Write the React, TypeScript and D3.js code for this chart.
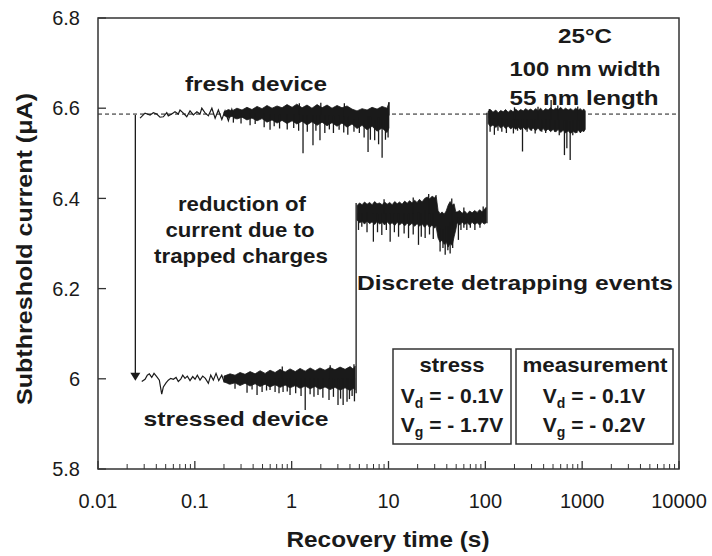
import * as d3 from "d3";

type Pt = [number, number];
type Band = [number, number, number];

const yTicks = [5.8, 6.0, 6.2, 6.4, 6.6, 6.8];
const yTickLabels = ["5.8", "6", "6.2", "6.4", "6.6", "6.8"];
const xTicks = [0.01, 0.1, 1, 10, 100, 1000, 10000];
const xTickLabels = ["0.01", "0.1", "1", "10", "100", "1000", "10000"];

// fresh level (dashed reference)
const freshLevel = 6.587;

// fresh device, sparse start of the trace
const freshThin: Pt[] = [
  [0.0272, 6.578], [0.0306, 6.589], [0.0345, 6.585], [0.0373, 6.59], [0.0404, 6.587],
  [0.0437, 6.58], [0.0473, 6.581], [0.0513, 6.59], [0.0532, 6.583], [0.0577, 6.587],
  [0.0624, 6.592], [0.0675, 6.587], [0.0703, 6.596], [0.0761, 6.589], [0.0825, 6.581],
  [0.0892, 6.594], [0.0965, 6.585], [0.105, 6.592], [0.113, 6.587], [0.118, 6.6],
  [0.127, 6.59], [0.138, 6.583], [0.15, 6.6], [0.162, 6.578], [0.175, 6.596],
  [0.19, 6.575], [0.205, 6.594], [0.222, 6.572], [0.241, 6.598], [0.26, 6.578], [0.281, 6.596],
];

// fresh device, dense part: [t, low, high]
const freshBand: Band[] = [
  [0.2, 6.584, 6.592], [0.222, 6.579, 6.597], [0.242, 6.582, 6.594], [0.272, 6.576, 6.6],
  [0.307, 6.58, 6.596], [0.345, 6.574, 6.602], [0.389, 6.578, 6.597], [0.439, 6.572, 6.604],
  [0.494, 6.577, 6.599], [0.556, 6.569, 6.606], [0.627, 6.574, 6.6], [0.706, 6.567, 6.605],
  [0.795, 6.573, 6.601], [0.895, 6.566, 6.608], [1.01, 6.572, 6.602], [1.13, 6.565, 6.609],
  [1.28, 6.571, 6.601], [1.44, 6.563, 6.607], [1.62, 6.57, 6.6], [1.83, 6.562, 6.608],
  [2.06, 6.569, 6.601], [2.32, 6.561, 6.607], [2.61, 6.568, 6.6], [2.94, 6.56, 6.606],
  [3.31, 6.567, 6.601], [3.73, 6.558, 6.605], [4.2, 6.565, 6.598], [4.73, 6.555, 6.594],
  [5.33, 6.562, 6.599], [6.01, 6.552, 6.596], [6.76, 6.56, 6.602], [7.62, 6.549, 6.598],
  [8.58, 6.556, 6.604], [9.66, 6.546, 6.6], [10.1, 6.556, 6.612],
];

const freshSpikes: Pt[] = [
  [0.25, 6.568], [0.3, 6.566], [0.372, 6.562], [0.42, 6.565], [0.52, 6.558], [0.598, 6.552],
  [0.66, 6.56], [0.75, 6.555], [0.9, 6.553], [1.05, 6.556], [1.18, 6.55], [1.31, 6.5],
  [1.45, 6.548], [1.66, 6.518], [1.78, 6.55], [1.96, 6.529], [2.2, 6.545], [2.45, 6.553],
  [2.7, 6.545], [3.09, 6.552], [3.45, 6.546], [3.8, 6.541], [4.4, 6.548], [5.0, 6.545],
  [5.6, 6.535], [6.15, 6.503], [6.5, 6.53], [7.2, 6.529], [7.9, 6.52], [8.59, 6.49],
  [9.3, 6.53], [9.9, 6.535],
  [1.2, 6.611], [2.0, 6.612], [3.5, 6.611], [10.1, 6.614],
];

// stressed device, sparse start
const stressThin: Pt[] = [
  [0.0283, 5.994], [0.0306, 5.999], [0.0323, 6.008], [0.0339, 6.011], [0.0359, 6.003],
  [0.0379, 6.012], [0.0404, 6.005], [0.043, 5.997], [0.0455, 5.966], [0.0473, 5.982],
  [0.0504, 5.991], [0.0532, 5.997], [0.0564, 6.001], [0.06, 5.999], [0.064, 6.003],
  [0.0675, 5.994], [0.0715, 5.999], [0.075, 6.008], [0.0792, 6.001], [0.0837, 6.006],
  [0.0892, 5.996], [0.0951, 6.005], [0.1005, 5.999], [0.1061, 6.008], [0.1131, 5.997],
  [0.1206, 6.006], [0.1284, 6.001], [0.1379, 5.99], [0.146, 6.008], [0.1553, 5.997],
  [0.1656, 6.012], [0.1766, 5.996], [0.1896, 6.008], [0.2003, 5.994], [0.2136, 6.005], [0.2272, 5.988],
];

const stressBand: Band[] = [
  [0.2, 5.993, 6.006], [0.231, 5.988, 6.011], [0.26, 5.991, 6.008], [0.293, 5.985, 6.014],
  [0.33, 5.99, 6.01], [0.372, 5.984, 6.016], [0.419, 5.989, 6.011], [0.472, 5.983, 6.018],
  [0.532, 5.988, 6.012], [0.598, 5.982, 6.019], [0.674, 5.987, 6.014], [0.759, 5.981, 6.021],
  [0.856, 5.986, 6.015], [0.962, 5.98, 6.022], [1.09, 5.985, 6.016], [1.22, 5.979, 6.023],
  [1.38, 5.984, 6.017], [1.55, 5.978, 6.024], [1.75, 5.983, 6.018], [1.96, 5.977, 6.024],
  [2.21, 5.982, 6.019], [2.49, 5.976, 6.025], [2.8, 5.981, 6.02], [3.16, 5.975, 6.026],
  [3.56, 5.98, 6.021], [4.01, 5.974, 6.027], [4.3, 5.979, 6.022], [4.52, 5.975, 6.028],
];

const stressSpikes: Pt[] = [
  [0.26, 5.978], [0.346, 5.969], [0.39, 5.976], [0.439, 5.964], [0.495, 5.971], [0.55, 5.974],
  [0.598, 5.975], [0.674, 5.971], [0.74, 5.968], [0.815, 5.971], [0.9, 5.972], [0.962, 5.964],
  [1.1, 5.968], [1.25, 5.962], [1.38, 5.931], [1.55, 5.966], [1.7, 5.96], [1.87, 5.964],
  [2.1, 5.958], [2.43, 5.953], [2.7, 5.96], [3.01, 5.942], [3.2, 5.956], [3.4, 5.942],
  [3.73, 5.949], [3.95, 5.955], [4.21, 5.962], [4.45, 5.95],
  [0.8, 6.027], [2.5, 6.03], [4.4, 6.032],
];

// after first detrapping event
const level2Band: Band[] = [
  [4.74, 6.352, 6.384], [5.02, 6.346, 6.39], [5.33, 6.349, 6.386], [5.66, 6.343, 6.392],
  [6.01, 6.35, 6.387], [6.38, 6.344, 6.391], [6.77, 6.348, 6.386], [7.19, 6.342, 6.393],
  [7.62, 6.349, 6.388], [8.09, 6.343, 6.39], [8.59, 6.347, 6.386], [9.12, 6.341, 6.392],
  [9.68, 6.348, 6.387], [10.3, 6.342, 6.391], [10.9, 6.346, 6.386], [11.6, 6.34, 6.393],
  [12.3, 6.347, 6.388], [13.0, 6.341, 6.392], [13.8, 6.346, 6.387], [14.7, 6.339, 6.394],
  [15.6, 6.345, 6.389], [16.5, 6.34, 6.395], [17.5, 6.345, 6.39], [18.6, 6.338, 6.396],
  [19.7, 6.344, 6.391], [20.9, 6.339, 6.398], [22.2, 6.343, 6.392], [23.6, 6.336, 6.4],
  [25.1, 6.343, 6.403], [26.6, 6.335, 6.399], [28.2, 6.341, 6.405], [30, 6.334, 6.401],
  [31, 6.338, 6.407], [32.5, 6.312, 6.373], [34.1, 6.303, 6.366], [35.8, 6.308, 6.37],
  [37.5, 6.298, 6.365], [39.4, 6.303, 6.372], [41.3, 6.292, 6.385], [43.3, 6.3, 6.393],
  [45.4, 6.296, 6.385], [47.6, 6.315, 6.388], [49.5, 6.33, 6.37], [51.2, 6.346, 6.37],
  [54.3, 6.341, 6.373], [57.6, 6.347, 6.367], [61.2, 6.342, 6.372], [64.9, 6.346, 6.366],
  [68.9, 6.341, 6.372], [73.1, 6.347, 6.368], [77.6, 6.342, 6.373], [82.3, 6.346, 6.369],
  [87.4, 6.341, 6.375], [92.7, 6.347, 6.37], [97.5, 6.343, 6.376], [102, 6.346, 6.38],
];

const level2Spikes: Pt[] = [
  [4.9, 6.33], [5.3, 6.337], [6.0, 6.325], [6.98, 6.304], [7.7, 6.325], [8.53, 6.319],
  [9.5, 6.33], [10.4, 6.304], [11.5, 6.325], [12.7, 6.315], [14.5, 6.322], [16.1, 6.312],
  [18, 6.32], [20.4, 6.297], [21.8, 6.315], [23.9, 6.312], [26.5, 6.32], [29, 6.31],
  [34.1, 6.282], [36.5, 6.29], [38.5, 6.275], [41, 6.285], [43.3, 6.278], [46, 6.29],
  [52.7, 6.308], [56, 6.33], [60, 6.335], [64.4, 6.33], [70, 6.335], [78, 6.33], [88, 6.335],
  [9, 6.398], [18, 6.402], [26, 6.41], [45, 6.4], [60, 6.38], [95, 6.382],
];

// after second detrapping event
const level3Band: Band[] = [
  [107, 6.566, 6.593], [113, 6.559, 6.597], [120, 6.563, 6.591], [128, 6.557, 6.596],
  [136, 6.562, 6.59], [144, 6.556, 6.595], [153, 6.561, 6.592], [162, 6.555, 6.597],
  [172, 6.56, 6.591], [183, 6.554, 6.596], [194, 6.559, 6.592], [206, 6.553, 6.598],
  [218, 6.558, 6.593], [232, 6.552, 6.597], [246, 6.558, 6.594], [261, 6.552, 6.599],
  [277, 6.557, 6.595], [294, 6.551, 6.598], [312, 6.556, 6.594], [331, 6.55, 6.599],
  [351, 6.556, 6.595], [372, 6.549, 6.6], [395, 6.555, 6.594], [419, 6.549, 6.599],
  [445, 6.554, 6.596], [472, 6.548, 6.601], [501, 6.553, 6.596], [532, 6.547, 6.6],
  [565, 6.553, 6.597], [600, 6.546, 6.602], [636, 6.551, 6.596], [675, 6.545, 6.6],
  [716, 6.55, 6.596], [760, 6.544, 6.599], [807, 6.549, 6.595], [856, 6.545, 6.6],
  [909, 6.551, 6.596], [955, 6.546, 6.599], [1000, 6.55, 6.595], [1040, 6.548, 6.598],
  [1075, 6.553, 6.594],
];

const level3Spikes: Pt[] = [
  [112, 6.548], [124, 6.541], [135, 6.55], [148, 6.548], [165, 6.545], [195, 6.544],
  [215, 6.55], [242, 6.504], [270, 6.548], [300, 6.55], [327, 6.544], [383, 6.548],
  [420, 6.545], [467, 6.552], [520, 6.548], [580, 6.54], [656, 6.496], [695, 6.511],
  [752, 6.485], [800, 6.54], [880, 6.545], [960, 6.545],
  [110, 6.598], [200, 6.602], [350, 6.603], [478, 6.618], [560, 6.606], [900, 6.604],
];

// vertical steps: [t, from, to]
const jumps: Band[] = [
  [4.63, 5.968, 6.39],
  [104, 6.345, 6.59],
];

// arrow: [t, from, to]
const arrow: Band = [0.0243, 6.585, 6.0];

const W = 712;
const H = 556;
const FONT = "'Liberation Sans', Arial, Helvetica, sans-serif";
const INK = "#1a1a1a";

export default function App() {
  const x = d3.scaleLog().domain([0.01, 10000]).range([98, 679]);
  const y = d3.scaleLinear().domain([5.8, 6.8]).range([469, 18]);

  const line = d3.line<Pt>().x((d) => x(d[0])).y((d) => y(d[1]));
  const area = d3
    .area<Band>()
    .x((d) => x(d[0]))
    .y0((d) => y(d[1]))
    .y1((d) => y(d[2]));

  const bis = d3.bisector<Band, number>((d) => d[0]).left;
  const spikeBase = (band: Band[], t: number) => {
    const i = Math.min(band.length - 1, Math.max(0, bis(band, t)));
    return (band[i][1] + band[i][2]) / 2;
  };

  const minorTicks = x.ticks().filter((t) => !xTicks.includes(t));

  const bands: [Band[], Pt[]][] = [
    [freshBand, freshSpikes],
    [stressBand, stressSpikes],
    [level2Band, level2Spikes],
    [level3Band, level3Spikes],
  ];

  const ax = x(arrow[0]);
  const tip = y(arrow[2]) + 2;

  const bold = { fontFamily: FONT, fontWeight: 700, fontSize: 21, fill: INK } as const;

  const label = (txt: string, cx: number, by: number, w: number, fs = 21) => (
    <text
      x={cx}
      y={by}
      textAnchor="middle"
      textLength={w}
      lengthAdjust="spacingAndGlyphs"
      style={{ ...bold, fontSize: fs }}
    >
      {txt}
    </text>
  );

  const vRow = (sub: string, val: string, cx: number, by: number) => (
    <text x={cx} y={by} textAnchor="middle" style={bold}>
      V
      <tspan dy={5} fontSize={14}>
        {sub}
      </tspan>
      <tspan dy={-5}>{` = - ${val}V`}</tspan>
    </text>
  );

  return (
    <svg
      width={W}
      height={H}
      style={{ position: "absolute", left: 0, top: 0, background: "#fff" }}
    >
      {/* dashed reference at fresh level */}
      <line
        x1={98}
        x2={679}
        y1={y(freshLevel)}
        y2={y(freshLevel)}
        stroke={INK}
        strokeWidth={1}
        strokeDasharray="4,3"
      />

      {/* traces */}
      <path d={line(freshThin) || ""} fill="none" stroke={INK} strokeWidth={1.2} />
      <path d={line(stressThin) || ""} fill="none" stroke={INK} strokeWidth={1.2} />
      {bands.map(([band, spikes], k) => (
        <g key={k}>
          <path d={area(band) || ""} fill={INK} stroke={INK} strokeWidth={0.8} />
          {spikes.map((s, j) => (
            <line
              key={j}
              x1={x(s[0])}
              x2={x(s[0])}
              y1={y(spikeBase(band, s[0]))}
              y2={y(s[1])}
              stroke={INK}
              strokeWidth={1.3}
            />
          ))}
        </g>
      ))}
      {jumps.map((j, k) => (
        <line key={k} x1={x(j[0])} x2={x(j[0])} y1={y(j[1])} y2={y(j[2])} stroke={INK} strokeWidth={1.3} />
      ))}

      {/* arrow */}
      <line x1={ax} x2={ax} y1={y(arrow[1])} y2={tip - 6} stroke={INK} strokeWidth={1.3} />
      <path d={`M${ax - 5},${tip - 8}L${ax + 5},${tip - 8}L${ax},${tip}Z`} fill={INK} />

      {/* frame */}
      <rect x={98} y={18} width={581} height={451} fill="none" stroke="#333" strokeWidth={1.5} />

      {/* y ticks */}
      {yTicks.map((v, i) => (
        <g key={v}>
          <line x1={98} x2={106} y1={y(v)} y2={y(v)} stroke="#333" strokeWidth={1.3} />
          <text
            x={80}
            y={y(v)}
            dy="0.36em"
            textAnchor="end"
            style={{ fontFamily: FONT, fontSize: 20, fill: INK }}
          >
            {yTickLabels[i]}
          </text>
        </g>
      ))}

      {/* x ticks */}
      {xTicks.map((t, i) => (
        <g key={t}>
          <line x1={x(t)} x2={x(t)} y1={469} y2={461} stroke="#333" strokeWidth={1.3} />
          <text
            x={x(t)}
            y={508}
            textAnchor="middle"
            style={{ fontFamily: FONT, fontSize: 20, fill: INK }}
          >
            {xTickLabels[i]}
          </text>
        </g>
      ))}
      {minorTicks.map((t) => (
        <line key={t} x1={x(t)} x2={x(t)} y1={469} y2={464} stroke="#333" strokeWidth={1} />
      ))}

      {/* axis titles */}
      {label("Recovery time (s)", 388, 547, 203, 22)}
      <text
        transform="translate(32,249) rotate(-90)"
        textAnchor="middle"
        textLength={312}
        lengthAdjust="spacingAndGlyphs"
        style={{ ...bold, fontSize: 22 }}
      >
        Subthreshold current (μA)
      </text>

      {/* annotations */}
      {label("fresh device", 256, 91, 142)}
      {label("reduction of", 242, 211, 128)}
      {label("current due to", 240, 237, 149)}
      {label("trapped charges", 241, 263, 174)}
      {label("stressed device", 236, 426, 185)}
      {label("25°C", 585, 43, 54)}
      {label("100 nm width", 585, 76, 151)}
      {label("55 nm length", 584, 105, 149)}
      {label("Discrete detrapping events", 515, 290, 316)}

      {/* condition boxes */}
      <rect x={393} y={349} width={118} height={95} fill="none" stroke="#333" strokeWidth={1.5} />
      <rect x={516} y={349} width={157} height={95} fill="none" stroke="#333" strokeWidth={1.5} />
      {label("stress", 452, 372, 65)}
      {vRow("d", "0.1", 452, 403)}
      {vRow("g", "1.7", 452, 432)}
      {label("measurement", 595, 372, 145)}
      {vRow("d", "0.1", 594, 403)}
      {vRow("g", "0.2", 594, 432)}
    </svg>
  );
}
